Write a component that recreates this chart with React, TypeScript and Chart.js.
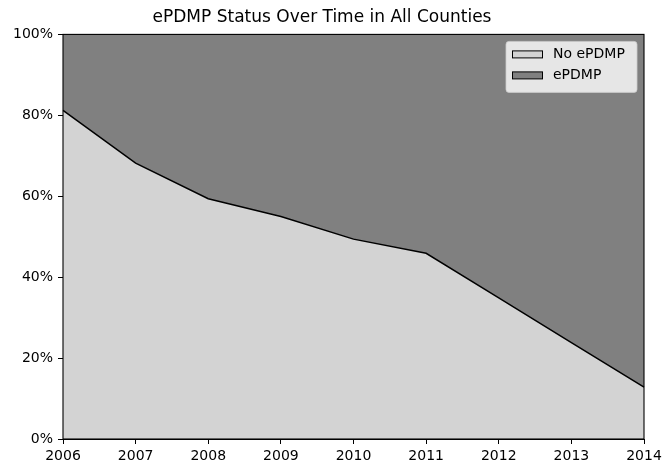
import React, { useEffect, useRef } from "react";
import { Chart, registerables } from "chart.js";

Chart.register(...registerables);

const years = ["2006", "2007", "2008", "2009", "2010", "2011", "2012", "2013", "2014"];
const noEpdmp = [81.2, 68.2, 59.4, 55.0, 49.4, 45.9, 34.9, 23.8, 12.8];
const epdmp = [18.8, 31.8, 40.6, 45.0, 50.6, 54.1, 65.1, 76.2, 87.2];
const seriesNames = ["No ePDMP", "ePDMP"];
const seriesColors = ["#d3d3d3", "#808080"];
const yTicks = [0, 20, 40, 60, 80, 100];
const titleText = "ePDMP Status Over Time in All Counties";

const FONT = "'DejaVu Sans', sans-serif";

const framePlugin = {
  id: "frame",
  afterDatasetsDraw(chart: any) {
    const { ctx, chartArea } = chart;
    ctx.save();
    ctx.strokeStyle = "#000";
    ctx.lineWidth = 1.1;
    ctx.strokeRect(chartArea.left, chartArea.top, chartArea.right - chartArea.left, chartArea.bottom - chartArea.top);
    ctx.restore();
  },
};

const legendPlugin = {
  id: "mplLegend",
  afterDraw(chart: any) {
    const { ctx, chartArea } = chart;
    const w = 131;
    const h = 51;
    const x = chartArea.right - 7 - w;
    const y = chartArea.top + 7;
    ctx.save();
    ctx.beginPath();
    const r = 3;
    ctx.moveTo(x + r, y);
    ctx.lineTo(x + w - r, y);
    ctx.quadraticCurveTo(x + w, y, x + w, y + r);
    ctx.lineTo(x + w, y + h - r);
    ctx.quadraticCurveTo(x + w, y + h, x + w - r, y + h);
    ctx.lineTo(x + r, y + h);
    ctx.quadraticCurveTo(x, y + h, x, y + h - r);
    ctx.lineTo(x, y + r);
    ctx.quadraticCurveTo(x, y, x + r, y);
    ctx.closePath();
    ctx.fillStyle = "rgba(255,255,255,0.8)";
    ctx.fill();
    ctx.strokeStyle = "rgba(204,204,204,0.8)";
    ctx.lineWidth = 1;
    ctx.stroke();
    ctx.font = `14px ${FONT}`;
    ctx.textBaseline = "middle";
    ctx.textAlign = "left";
    seriesNames.forEach((name, i) => {
      const cy = y + 13 + i * 21;
      ctx.fillStyle = seriesColors[i];
      ctx.fillRect(x + 6, cy - 3.5, 31, 7);
      ctx.strokeStyle = "#000";
      ctx.lineWidth = 1;
      ctx.strokeRect(x + 6.5, cy - 3.5, 30, 7);
      ctx.fillStyle = "#000";
      ctx.fillText(name, x + 47, cy);
    });
    ctx.restore();
  },
};

export default function App() {
  const ref = useRef<HTMLCanvasElement | null>(null);
  useEffect(() => {
    document.body.style.margin = "0";
    const chart = new Chart(ref.current as HTMLCanvasElement, {
      type: "line",
      data: {
        labels: years,
        datasets: [
          {
            label: seriesNames[0],
            data: noEpdmp,
            fill: "origin",
            backgroundColor: seriesColors[0],
            borderColor: "#000",
            borderWidth: 1.5,
            pointRadius: 0,
            tension: 0,
          },
          {
            label: seriesNames[1],
            data: epdmp,
            fill: "-1",
            backgroundColor: seriesColors[1],
            borderColor: "#000",
            borderWidth: 1,
            pointRadius: 0,
            tension: 0,
          },
        ],
      },
      options: {
        animation: false,
        responsive: false,
        maintainAspectRatio: false,
        layout: { padding: { left: 0, right: 18, top: 0, bottom: 0 } },
        plugins: {
          legend: { display: false },
          tooltip: { enabled: false },
          title: {
            display: true,
            text: titleText,
            color: "#000",
            font: { family: FONT, size: 17, weight: "normal" },
            padding: { top: 7, bottom: 7 },
          },
        },
        scales: {
          x: {
            type: "category",
            offset: false,
            grid: { display: true, drawOnChartArea: false, drawTicks: true, tickLength: 5, color: "#000", lineWidth: 1 },
            border: { display: true, color: "#000", width: 1 },
            ticks: { color: "#000", font: { family: FONT, size: 14 }, padding: 4, maxRotation: 0, autoSkip: false },
            afterFit(scale: any) {
              scale.height = 25;
              scale.paddingLeft = 0;
              scale.paddingRight = 0;
            },
          },
          y: {
            type: "linear",
            stacked: true,
            min: 0,
            max: 100,
            afterBuildTicks(scale: any) {
              scale.ticks = yTicks.map((v) => ({ value: v }));
            },
            grid: { display: true, drawOnChartArea: false, drawTicks: true, tickLength: 5, color: "#000", lineWidth: 1 },
            border: { display: true, color: "#000", width: 1 },
            ticks: {
              color: "#000",
              font: { family: FONT, size: 14 },
              padding: 5,
              callback: (v: any) => `${v}%`,
            },
            afterFit(scale: any) {
              scale.width = 63;
              scale.paddingTop = 0;
              scale.paddingBottom = 0;
            },
          },
        },
      },
      plugins: [framePlugin, legendPlugin],
    } as any);
    return () => chart.destroy();
  }, []);
  return (
    <div style={{ position: "absolute", left: 0, top: 0, width: 662, height: 464 }}>
      <canvas ref={ref} width={662} height={464} style={{ width: 662, height: 464 }} />
    </div>
  );
}
